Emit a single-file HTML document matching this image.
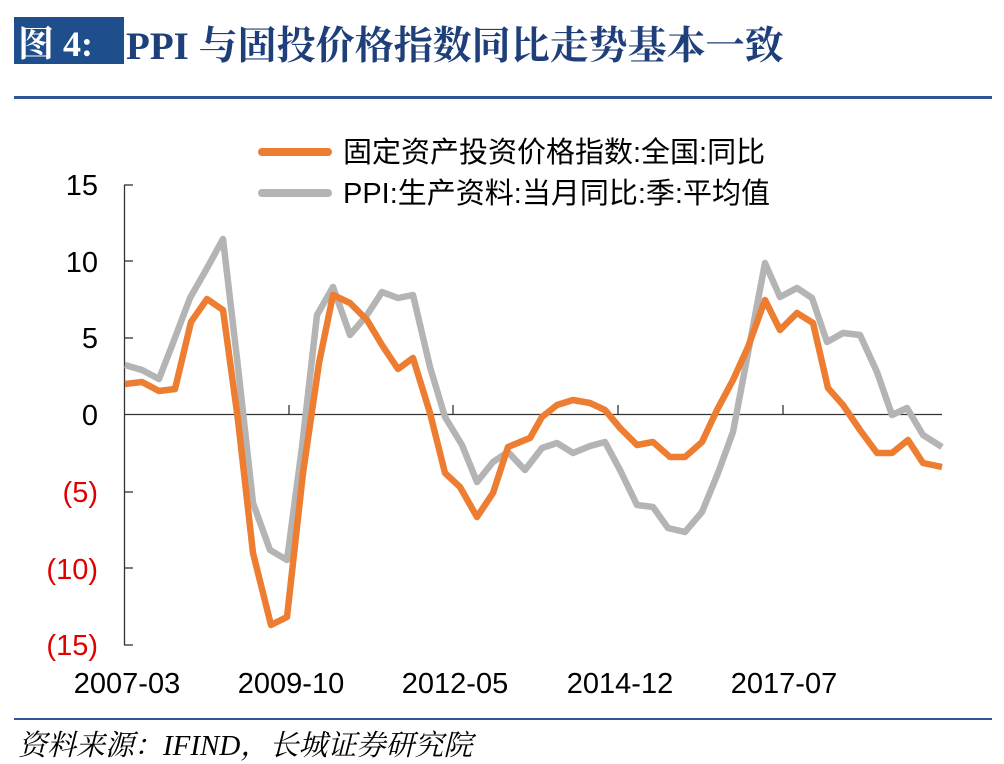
<!DOCTYPE html>
<html><head><meta charset="utf-8"><style>
body{margin:0;background:#fff;width:1004px;height:763px;overflow:hidden;position:relative;font-family:"Liberation Sans","Noto Sans CJK SC",sans-serif}
.t{position:absolute;white-space:nowrap}
</style></head><body>
<div class="t" style="left:14px;top:17px;width:110px;height:47px;background:#1f4e8c"></div>
<div class="t" style="left:18px;top:16px;font:bold 36px 'Liberation Serif','Noto Serif CJK SC',serif;color:#fff">图 4:</div>
<div class="t" style="left:126px;top:15px;font:bold 39px 'Liberation Serif','Noto Serif CJK SC',serif;color:#1f3f7a">PPI 与固投价格指数同比走势基本一致</div>
<div class="t" style="left:14px;top:96px;width:978px;height:3px;background:#2f5597"></div>
<div class="t" style="left:14px;top:718px;width:978px;height:2px;background:#2f5597"></div>
<div class="t" style="left:18px;top:723px;font:italic 29px 'Liberation Serif','Noto Serif CJK SC',serif;color:#000">资料来源：IFIND，长城证券研究院</div>
<svg class="t" style="left:0;top:0" width="1004" height="763">
<g font-family="Liberation Sans,Noto Sans CJK SC,sans-serif" font-size="29">
<line x1="262" y1="152" x2="328" y2="152" stroke="#ed7d31" stroke-width="8" stroke-linecap="round"/>
<text x="343" y="162">固定资产投资价格指数:全国:同比</text>
<line x1="262" y1="193" x2="328" y2="193" stroke="#b4b4b4" stroke-width="8" stroke-linecap="round"/>
<text x="343" y="203">PPI:生产资料:当月同比:季:平均值</text>
<g text-anchor="end">
<text x="98" y="195">15</text><text x="98" y="272">10</text><text x="98" y="348">5</text><text x="98" y="425">0</text>
<g fill="#e00000"><text x="98" y="502">(5)</text><text x="98" y="579">(10)</text><text x="98" y="655">(15)</text></g>
</g>
<g text-anchor="middle">
<text x="127" y="693">2007-03</text><text x="291" y="693">2009-10</text><text x="455" y="693">2012-05</text><text x="620" y="693">2014-12</text><text x="784" y="693">2017-07</text>
</g>
</g>
<g stroke="#333" stroke-width="1.3">
<line x1="124.5" y1="185" x2="124.5" y2="645"/>
<line x1="124" y1="414.5" x2="942" y2="414.5"/>
<line x1="124" y1="185" x2="133" y2="185"/><line x1="124" y1="261" x2="133" y2="261"/><line x1="124" y1="338" x2="133" y2="338"/><line x1="124" y1="492" x2="133" y2="492"/><line x1="124" y1="568" x2="133" y2="568"/><line x1="124" y1="645" x2="133" y2="645"/>
<line x1="289" y1="405" x2="289" y2="414"/><line x1="453" y1="405" x2="453" y2="414"/><line x1="618" y1="405" x2="618" y2="414"/><line x1="783" y1="405" x2="783" y2="414"/>
</g>
<polyline fill="none" stroke="#b4b4b4" stroke-width="6.5" stroke-linejoin="round" points="125,365 142,370 159,379 173,343 190,298 206,270 223,239 238,367 253,503 270,550 287,560 302,447 317,315 333,287 350,335 367,315 382,292 398,298 413,295 430,367 445,417 462,445 477,482 493,462 508,452 525,470 542,448 557,443 573,453 590,446 605,442 620,470 637,505 653,507 668,528 685,532 702,512 718,473 733,432 748,353 765,263 780,297 797,288 812,298 827,342 843,333 860,335 877,372 892,415 907,408 923,435 942,447"/>
<polyline fill="none" stroke="#ed7d31" stroke-width="6.5" stroke-linejoin="round" points="125,384 142,382 159,391 175,389 191,322 207,299 223,310 238,420 253,553 271,625 287,617 303,473 319,363 333,295 350,303 367,320 382,345 398,369 413,358 430,413 445,473 460,487 477,517 493,493 508,447 525,440 530,438 542,417 557,405 573,400 590,403 605,410 620,428 637,445 653,442 670,457 685,457 702,442 717,410 733,380 748,347 765,300 780,330 797,313 813,323 828,388 843,405 860,430 877,453 892,453 908,440 923,463 942,467"/>
</svg>
</body></html>
